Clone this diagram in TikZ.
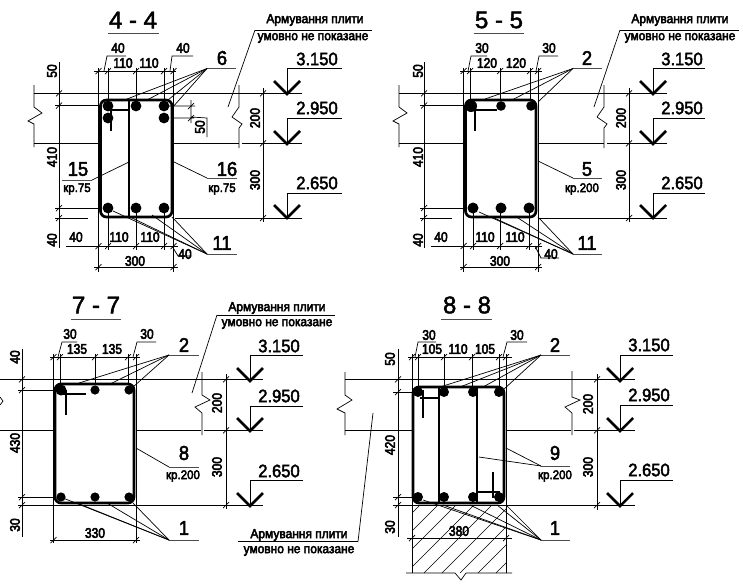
\documentclass[tikz,border=0pt]{standalone}
\usepackage{fontspec}
\setmainfont{Liberation Sans}
\newfontfamily\fttl{Liberation Sans}[FakeBold=2]
\newfontfamily\flab{Liberation Sans}[FakeBold=2.5,FakeStretch=0.92]
\newfontfamily\fdim{Liberation Sans}[FakeBold=3.5,FakeStretch=0.86]
\newfontfamily\fnote{Liberation Sans}[FakeBold=3.5,FakeStretch=0.92]
\tikzset{
 ln/.style={line width=0.7pt,black},
 ul/.style={line width=1pt,black!70},
 stir/.style={line width=2.7pt,black,rounded corners=6pt},
 tie/.style={line width=2pt,black},
 vmark/.style={line width=2.5pt,black},
 bar/.style={fill=black,draw=none},
 ttl/.style={font=\fttl\fontsize{24}{24}\selectfont,inner sep=0pt},
 lab/.style={font=\flab\fontsize{20}{20}\selectfont,inner sep=0pt},
 lvl/.style={font=\flab\fontsize{18}{18}\selectfont,inner sep=0pt},
 dimt/.style={font=\fdim\fontsize{14}{14}\selectfont,inner sep=0pt},
 dimv/.style={dimt,rotate=90},
 small/.style={font=\fnote\fontsize{12.5}{12.5}\selectfont,inner sep=0pt},
 note/.style={font=\fnote\fontsize{13}{13}\selectfont,inner sep=0pt},
}
\newcommand\Txt[4]{\node[#1] (t#2-#3) at (#2,#3) {#4};}
\newcommand\Ticks[1]{\foreach \a/\b in {#1}{\draw[ln] (\a-3,\b+3)--(\a+3,\b-3);}}
\newcommand\Fan[3]{\coordinate (fhub) at (#1,#2);\foreach \a/\b in {#3}{\draw[ln] (fhub)--(\a,\b);}}
\newcommand\Bars[2]{\foreach \a/\b in {#2}{\fill[bar] (\a,\b) circle (#1pt);}}
\newcommand\Lvl[7]{\draw[ln] (#2,#4)--(#1,#4)--(#1,#5);
 \draw[vmark] (#1-13,#5-13)--(#1,#5)--(#1+13,#5-13);
 \Txt{lvl}{#3}{#6}{#7}}
\newcommand\Note[7]{\Txt{note}{#1}{#2}{Армування плити}\Txt{note}{#3}{#4}{умовно не показане}
 \draw[ln] (#5,#6)--(#7,#6);}
\begin{document}
\begin{tikzpicture}[x=1pt,y=-1pt]
\useasboundingbox (0,0) rectangle (743,587);
\fill[white] (0,0) rectangle (743,587);

%%%%% 4-4
\Txt{ttl}{133}{20}{4 - 4}\draw[ul] (108,33.5)--(159,33.5);
\draw[ln] (34,93.3)--(302,93.3);
\draw[ln] (34,143.3)--(99,143.3) (173,143.3)--(239,143.3) (242,143.3)--(302,143.3);
\draw[ln] (34,85)--(34,107)--(42,113)--(28,121)--(34,124)--(34,147);
\draw[ln] (239,85)--(239,107)--(232,117)--(242,124)--(239,128)--(239,148);
\draw[ln] (59,62)--(59,248);
\draw[ln] (55,105.5)--(100,105.5) (55,208)--(100,208) (55,218)--(88,218) (175,218)--(302,218);
\Ticks{59/93.3,59/105.5,59/208,59/218}
\draw[ln] (94,71)--(176,71) (66,246)--(178,246) (94,267)--(178,267);
\draw[ln] (98.5,68)--(98.5,272) (173.5,68)--(173.5,272);
\draw[ln] (108,68)--(108,100) (136,68)--(136,100) (164,68)--(164,100);
\draw[ln] (108,213)--(108,250) (136,213)--(136,250) (164,213)--(164,250);
\Ticks{98.5/71,108/71,136/71,164/71,173.5/71,98.5/246,108/246,136/246,164/246,173.5/246,98.5/267,173.5/267}
\draw[ln] (104,71)--(107,56)--(126,56) (170,71)--(172,56)--(193,56);
\draw[ln] (172,246)--(178,256)--(192,256);
\draw[stir] (100.5,100) rectangle (172,217);
\draw[tie] (129,100)--(129,217) (108,110)--(129,110) (110.5,105)--(110.5,131);
\Bars{5.4}{108/106,136/106,164/106,108/118,164/118,108/208,136/208,164/208}
\draw[ln] (168,106)--(195,106) (172,118)--(194,118) (191,100)--(191,123) (191,117)--(207,118)--(207,137);
\Ticks{191/106,191/118}
\Txt{dimt}{118}{48}{40}\Txt{dimt}{183}{48}{40}\Txt{dimt}{123}{63}{110}\Txt{dimt}{149}{63}{110}
\Txt{dimt}{76}{237}{40}\Txt{dimt}{119}{237}{110}\Txt{dimt}{150}{237}{110}\Txt{dimt}{185}{254}{40}\Txt{dimt}{135}{261}{300}
\Txt{dimv}{52}{71}{50}\Txt{dimv}{52}{157}{410}\Txt{dimv}{52}{240}{40}\Txt{dimv}{200}{127}{50}
\Txt{dimv}{255}{118}{200}\Txt{dimv}{255}{180}{300}
\draw[ln] (263,88)--(263,222);\Ticks{263/93.3,263/143.3,263/218}
\Lvl{287}{342}{317}{68.5}{94}{59}{3.150}
\Lvl{287}{342}{317}{118}{144}{108}{2.950}
\Lvl{287}{342}{317}{193}{218}{183}{2.650}
\Note{315}{20}{313}{38}{255}{30}{372}\draw[ln] (228,107)--(255,30);
\Txt{lab}{222}{58}{6}\draw[ul] (207,68.5)--(236,68.5);\Fan{207}{68.5}{127/99,147/100,168/100,172/108}
\Txt{lab}{78}{169}{15}\draw[ul] (62,180)--(92,180);\Txt{small}{77}{189}{кр.75}\draw[ln] (92,180)--(129,162);
\Txt{lab}{227}{169}{16}\draw[ul] (207,178)--(237,178);\Txt{small}{222}{189}{кр.75}\draw[ln] (207,178)--(172,161);
\Txt{lab}{222}{243}{11}\draw[ul] (207,254)--(237,254);\Fan{207}{254}{113/211,130/217,152/215,172/217}

%%%%% 5-5
\Txt{ttl}{499}{20}{5 - 5}\draw[ul] (474,33.5)--(524,33.5);
\draw[ln] (399,93.3)--(667,93.3);
\draw[ln] (399,143.3)--(465,143.3) (538,143.3)--(604,143.3) (607,143.3)--(667,143.3);
\draw[ln] (399,85)--(399,107)--(407,113)--(393,121)--(399,124)--(399,147);
\draw[ln] (604,85)--(604,107)--(597,117)--(607,124)--(604,128)--(604,148);
\draw[ln] (424,62)--(424,248);
\draw[ln] (420,105.5)--(466,105.5) (420,208)--(466,208) (420,218)--(452,218) (539,218)--(667,218);
\Ticks{424/93.3,424/105.5,424/208,424/218}
\draw[ln] (460,71)--(542,71) (431,246)--(542,246) (460,267)--(542,267);
\draw[ln] (463.5,68)--(463.5,272) (538,68)--(538,272);
\draw[ln] (470,68)--(470,100) (500,68)--(500,100) (530,68)--(530,100);
\draw[ln] (473,213)--(473,250) (500,213)--(500,250) (529,213)--(529,250);
\Ticks{463.5/71,470/71,500/71,530/71,538/71,463.5/246,473/246,500/246,529/246,538/246,463.5/267,538/267}
\draw[ln] (468,71)--(471,56)--(487,56) (536,71)--(539,56)--(558,56);
\draw[ln] (535,246)--(541,258)--(559,258);
\draw[stir] (465.5,100) rectangle (536,217);
\draw[tie] (472,110)--(497,110) (475,105)--(475,131);
\Bars{6}{471/106}
\Bars{4.8}{501/106,531/106}
\Bars{5.5}{473/208,501/208,529/208}
\Txt{dimt}{482}{48}{30}\Txt{dimt}{549}{48}{30}\Txt{dimt}{487}{63}{120}\Txt{dimt}{516}{63}{120}
\Txt{dimt}{441}{237}{40}\Txt{dimt}{485}{237}{110}\Txt{dimt}{515}{237}{110}\Txt{dimt}{551}{254}{40}\Txt{dimt}{500}{261}{300}
\Txt{dimv}{418}{71}{50}\Txt{dimv}{418}{157}{410}\Txt{dimv}{418}{240}{40}
\Txt{dimv}{621}{118}{200}\Txt{dimv}{621}{180}{300}
\draw[ln] (629,88)--(629,222);\Ticks{629/93.3,629/143.3,629/218}
\Lvl{653}{705}{682}{68.5}{94}{59}{3.150}
\Lvl{653}{705}{682}{118}{144}{108}{2.950}
\Lvl{653}{705}{682}{193}{218}{183}{2.650}
\Note{680}{20}{680}{38}{620}{30}{739}\draw[ln] (594,107)--(620,30);
\Txt{lab}{587}{58}{2}\draw[ul] (573,68.5)--(602,68.5);\Fan{573}{68.5}{485/99,512/100,538/102}
\Txt{lab}{587}{169}{5}\draw[ul] (573,178)--(602,178);\Txt{small}{582}{189}{кр.200}\draw[ln] (573,178)--(538,161);
\Txt{lab}{587}{243}{11}\draw[ul] (573,254)--(602,254);\Fan{573}{254}{479/212,492/217,515/216,538/217}

%%%%% 7-7
\Txt{ttl}{96}{305}{7 - 7}\draw[ul] (71,319)--(121,319);
\draw[ln] (0,379.3)--(263,379.3);
\draw[ln] (0,430.3)--(54,430.3) (136,430.3)--(201,430.3) (204,430.3)--(263,430.3);
\draw[ln] (0,397)--(3,401)--(0,405);
\draw[ln] (202,372)--(202,395)--(210,400)--(195,407)--(202,413)--(202,435);
\draw[ln] (22,349)--(22,537);
\draw[ln] (18,390)--(55,390) (18,497)--(55,497) (18,505)--(53,505) (136,505)--(263,505);
\Ticks{22/379.3,22/390,22/497,22/505}
\draw[ln] (50,357)--(140,357) (50,540)--(140,540);
\draw[ln] (53.5,354)--(53.5,543) (136,354)--(136,543);
\draw[ln] (53.5,505)--(136,505);
\draw[ln] (60,354)--(60,384) (95,354)--(95,384) (128,354)--(128,384);
\Ticks{53.5/357,60/357,95/357,128/357,136/357,53.5/540,136/540}
\draw[ln] (58,357)--(62,342)--(77,342) (133,357)--(137,342)--(156,342);
\draw[stir] (55,384) rectangle (134,503);
\draw[tie] (63,394)--(86,394) (66,390)--(66,415);
\Bars{5.5}{61/390}
\Bars{4.6}{95/390,129/390,61/497,95/497,129/497}
\Txt{dimt}{70}{334}{30}\Txt{dimt}{147}{334}{30}\Txt{dimt}{77}{349}{135}\Txt{dimt}{112}{349}{135}\Txt{dimt}{95}{533}{330}
\Txt{dimv}{15}{357}{40}\Txt{dimv}{15}{443}{430}\Txt{dimv}{15}{525}{30}
\Txt{dimv}{217}{403}{200}\Txt{dimv}{217}{467}{300}
\draw[ln] (226,374)--(226,509);\Ticks{226/379.3,226/430.3,226/505}
\Lvl{250}{303}{279}{355}{381}{346}{3.150}
\Lvl{250}{303}{279}{406}{431}{396}{2.950}
\Lvl{250}{303}{279}{480}{506}{471}{2.650}
\Note{277}{308}{277}{324}{217}{315}{335}\draw[ln] (192,393)--(217,315);
\Note{299}{535}{299}{551}{238}{541.5}{358}\draw[ln] (358,541.5)--(373,413);
\Txt{lab}{184}{345}{2}\draw[ul] (169,355)--(199,355);\Fan{169}{355}{79/383,110/384,133/387}
\Txt{lab}{184}{453}{8}\draw[ul] (169,467)--(199,467);\Txt{small}{183}{476}{кр.200}\draw[ln] (169,467)--(136,448);
\Txt{lab}{184}{528}{1}\draw[ul] (169,540)--(199,540);\Fan{169}{540}{63/498,77/503,107/503,133/503}

%%%%% 8-8
\Txt{ttl}{467}{305}{8 - 8}\draw[ul] (441,319)--(492,319);
\begin{scope}
\clip (412,505) rectangle (506,573);
\foreach \h in {-60,-42,...,140}{\draw[line width=0.5pt] (412+\h,573)--(412+\h+68,505);}
\end{scope}
\draw[ln] (345,379.3)--(635,379.3);
\draw[ln] (345,430.3)--(412,430.3) (506,430.3)--(571,430.3) (574,430.3)--(635,430.3);
\draw[ln] (345,372)--(345,395)--(352,400)--(337,409)--(345,413)--(345,435);
\draw[ln] (572,371)--(572,397)--(580,400)--(565,407)--(572,413)--(572,435);
\draw[ln] (398,349)--(398,537);
\draw[ln] (393,392)--(413,392) (393,497)--(413,497) (393,505)--(635,505);
\Ticks{398/379.3,398/392,398/497,398/505}
\draw[ln] (408,357)--(512,357) (407,538)--(512,538);
\draw[ln] (412,354)--(412,573) (506,354)--(506,573);
\draw[ln] (418,354)--(418,387) (444,354)--(444,387) (472,354)--(472,387) (499,354)--(499,387);
\Ticks{412/357,418/357,444/357,472/357,499/357,506/357,412/538,506/538}
\draw[ln] (406,573)--(455,573)--(461,580)--(466,573)--(512,573);
\draw[ln] (415,357)--(418,342)--(436,342) (503,357)--(507,342)--(527,342);
\draw[stir] (413,387) rectangle (504,503);
\draw[stir] (439,387)--(439,503);
\draw[tie] (477,387)--(477,503) (420,398)--(439,398) (423,390)--(423,418) (477,492)--(500,492) (493,472)--(493,498);
\Bars{5}{418/392,444/392,473/392,499/392,418/497,444/497,473/497,499/497}
\Txt{dimt}{429}{335}{30}\Txt{dimt}{517}{335}{30}\Txt{dimt}{432}{349}{105}\Txt{dimt}{458}{349}{110}\Txt{dimt}{485}{349}{105}
\Txt{dimt}{459}{531}{380}
\Txt{dimv}{390}{359}{50}\Txt{dimv}{390}{445}{420}\Txt{dimv}{390}{527}{30}
\Txt{dimv}{588}{404}{200}\Txt{dimv}{588}{467}{300}
\draw[ln] (597,374)--(597,510);\Ticks{597/379.3,597/430.3,597/505}
\Lvl{620}{673}{649}{355}{381}{345}{3.150}
\Lvl{620}{673}{649}{405}{431}{395}{2.950}
\Lvl{620}{673}{649}{480}{506}{470}{2.650}
\Txt{lab}{555}{345}{2}\draw[ul] (541,355)--(570,355);\Fan{541}{355}{440/387,460/387,483/387,503/390}
\Txt{lab}{555}{453}{9}\draw[ul] (541,466)--(570,466);\Txt{small}{555}{476}{кр.200}\Fan{541}{466}{506/448,479/457}
\Txt{lab}{555}{528}{1}\draw[ul] (541,540)--(570,540);\Fan{541}{540}{423/500,443/505,470/505,497/505,506/505}
\end{tikzpicture}
\end{document}
